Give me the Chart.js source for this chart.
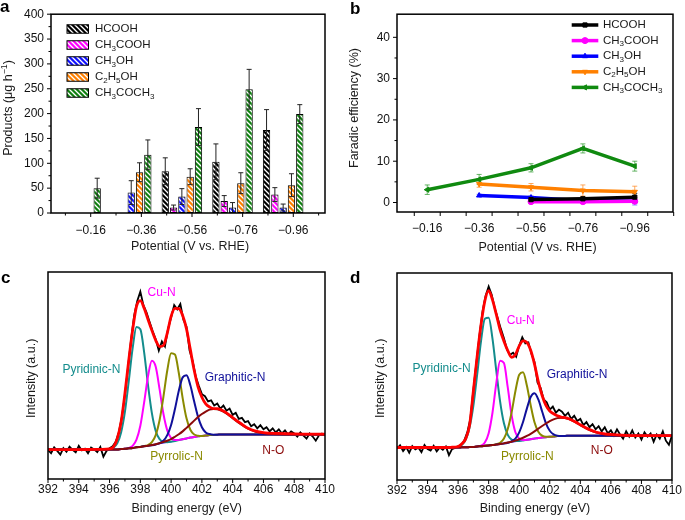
<!DOCTYPE html>
<html>
<head>
<meta charset="utf-8">
<script src="https://cdn.jsdelivr.net/npm/chart.js@4.4.0/dist/chart.umd.min.js"></script>
<style>
  body { margin: 0; background: #fff; width: 685px; height: 520px; position: relative; overflow: hidden; }
  canvas { position: absolute; }
</style>
</head>
<body>
<canvas id="chartA" width="342" height="260" style="left:0;top:0"></canvas>
<canvas id="chartB" width="343" height="260" style="left:342px;top:0"></canvas>
<canvas id="chartC" width="342" height="260" style="left:0;top:260px"></canvas>
<canvas id="chartD" width="343" height="260" style="left:342px;top:260px"></canvas>
<script>
// ---- data ----
const potentials = ['\u22120.16', '\u22120.36', '\u22120.56', '\u22120.76', '\u22120.96'];
const products = ['HCOOH', 'CH_3COOH', 'CH_3OH', 'C_2H_5OH', 'CH_3COCH_3'];

// a: production rate, ug h-1
const hcoohRate      = [null, null, 84, 103, 167];
const hcoohRateErr   = [null, null, 27, 36, 41];
const aceticRate     = [null, null, 11, 24, 37];
const aceticRateErr  = [null, null, 5, 11, 14];
const methanolRate   = [null, 41, 33, 11, 11];
const methanolRateErr= [null, 24, 16, 10, 7];
const ethanolRate    = [null, 82, 73, 60, 56];
const ethanolRateErr = [null, 19, 16, 21, 23];
const acetoneRate    = [50, 117, 173, 249, 199];
const acetoneRateErr = [20, 30, 37, 40, 19];

// b: faradaic efficiency, %
const hcoohFE      = [null, null, 0.7, 0.9, 1.3];
const hcoohFEErr   = [null, null, 0.3, 0.4, 0.9];
const aceticFE     = [null, null, 0.2, 0.2, 0.3];
const aceticFEErr  = [null, null, 0.3, 0.3, 0.4];
const methanolFE   = [null, 1.7, 1.2, 0.4, 0.3];
const methanolFEErr= [null, 0.3, 0.4, 0.6, 0.9];
const ethanolFE    = [null, 4.5, 3.7, 2.9, 2.6];
const ethanolFEErr = [null, 0.8, 0.9, 1.35, 1.35];
const acetoneFE    = [3.1, 5.6, 8.4, 13.1, 8.8];
const acetoneFEErr = [1.15, 1.2, 1.0, 1.1, 1.2];

// c, d: N 1s XPS. raw scan every 0.2 eV from 392 eV, fitted curves on eGrid
const scanStart = 392, scanStep = 0.2;
const cScan = [
  14.0, 12.5, 15.3, 13.6, 11.8, 14.9, 13.2, 15.6, 14.1, 12.9,
  16.0, 13.8, 14.6, 12.4, 15.2, 14.3, 13.0, 15.5, 10.8, 13.5,
  14.9, 15.8, 18.0, 22.5, 30.0, 40.5, 54.0, 67.5, 79.0, 86.0,
  90.5, 84.0, 80.5, 76.0, 71.5, 67.5, 62.0, 66.5, 64.0, 72.5,
  78.0, 84.0, 82.0, 84.5, 77.0, 73.5, 62.0, 57.0, 49.5, 45.0,
  41.0, 40.0, 37.5, 38.0, 35.5, 36.5, 34.0, 35.5, 33.0, 34.0,
  31.0, 32.0, 29.0, 29.5, 27.5, 28.0, 25.5, 26.5, 24.5, 26.0,
  24.0, 25.0, 23.0, 24.5, 22.5, 24.0, 22.0, 23.5, 21.5, 23.0,
  22.0, 20.5, 22.5, 21.0, 19.5, 22.0, 20.5, 18.5, 21.0, 22.0,
  21.0];
const dScan = [
  15.2, 16.8, 14.0, 15.9, 13.2, 16.4, 14.8, 15.6, 13.5, 16.9,
  15.0, 14.2, 16.5, 13.8, 15.7, 14.6, 16.2, 12.0, 14.9, 15.5,
  16.3, 17.0, 19.0, 23.0, 29.5, 43.5, 57.0, 70.0, 81.5, 89.0,
  93.5, 89.5, 83.0, 78.0, 73.0, 68.5, 63.0, 60.5, 61.5, 59.5,
  65.0, 69.0, 66.0, 66.5, 61.0, 57.0, 47.0, 44.5, 39.0, 37.5,
  34.0, 35.5, 32.5, 34.0, 33.0, 31.0, 32.5, 29.5, 31.0, 28.5,
  29.5, 26.5, 28.0, 25.5, 27.0, 24.5, 26.0, 23.5, 25.5, 22.5,
  24.0, 21.5, 24.5, 22.0, 20.0, 23.5, 21.0, 24.0, 20.5, 22.5,
  19.5, 23.0, 21.0, 22.5, 18.5, 22.0, 20.0, 23.5, 19.0, 17.0,
  21.5];

const eGrid = [392, 393, 394, 395, 395.5,
  396, 396.25, 396.5, 396.75, 397, 397.25, 397.5, 397.75,
  398, 398.25, 398.5, 398.75, 399, 399.25, 399.5, 399.75,
  400, 400.25, 400.5, 400.75, 401, 401.25, 401.5, 401.75,
  402, 402.25, 402.5, 402.75, 403, 403.25, 403.5, 403.75,
  404, 404.5, 405, 405.5, 406, 407, 408, 409, 410];

const cBase = [14.2, 14.2, 14.2, 14.2, 14.2,
  14.2, 14.3, 14.3, 14.5, 14.6, 14.8, 15.0, 15.3,
  15.5, 15.8, 16.0, 16.3, 16.6, 17.0, 17.3, 17.7,
  18.0, 18.4, 18.8, 19.2, 19.6, 20.0, 20.3, 20.6,
  20.8, 21.0, 21.2, 21.3, 21.4, 21.5, 21.5, 21.5,
  21.5, 21.5, 21.5, 21.5, 21.5, 21.5, 21.5, 21.5, 21.5];
const cPyridinic = [14.2, 14.2, 14.2, 14.2, 14.2,
  14.4, 15.1, 17.2, 22.5, 32.5, 47.4, 63.2, 73.4,
  72.3, 61.1, 45.3, 31.8, 23.2, 19.3, 18.0, 17.8,
  18.0, 18.4, 18.8, 19.2, 19.6, 20.0, 20.3, 20.6,
  20.8, 21.0, 21.2, 21.3, 21.4, 21.5, 21.5, 21.5,
  21.5, 21.5, 21.5, 21.5, 21.5, 21.5, 21.5, 21.5, 21.5];
const cCuN = [14.2, 14.2, 14.2, 14.2, 14.2,
  14.2, 14.3, 14.3, 14.5, 14.6, 15.0, 16.0, 19.0,
  25.7, 37.1, 49.7, 57.1, 54.2, 43.4, 31.5, 23.5,
  19.8, 18.8, 18.9, 19.2, 19.6, 20.0, 20.3, 20.6,
  20.8, 21.0, 21.2, 21.3, 21.4, 21.5, 21.5, 21.5,
  21.5, 21.5, 21.5, 21.5, 21.5, 21.5, 21.5, 21.5, 21.5];
const cPyrrolic = [14.2, 14.2, 14.2, 14.2, 14.2,
  14.2, 14.3, 14.3, 14.5, 14.6, 14.8, 15.0, 15.3,
  15.5, 15.9, 16.4, 17.8, 21.2, 28.4, 39.7, 52.4,
  60.7, 60.1, 51.2, 39.1, 29.3, 23.8, 21.5, 20.9,
  20.8, 21.0, 21.2, 21.3, 21.4, 21.5, 21.5, 21.5,
  21.5, 21.5, 21.5, 21.5, 21.5, 21.5, 21.5, 21.5, 21.5];
const cGraphitic = [14.2, 14.2, 14.2, 14.2, 14.2,
  14.2, 14.3, 14.3, 14.5, 14.6, 14.8, 15.0, 15.3,
  15.5, 15.8, 16.0, 16.3, 16.7, 17.3, 18.5, 21.2,
  26.1, 33.8, 42.6, 49.1, 50.1, 45.3, 37.4, 30.0,
  25.0, 22.5, 21.7, 21.4, 21.4, 21.5, 21.5, 21.5,
  21.5, 21.5, 21.5, 21.5, 21.5, 21.5, 21.5, 21.5, 21.5];
const cNO = [14.2, 14.2, 14.2, 14.2, 14.2,
  14.2, 14.3, 14.3, 14.5, 14.6, 14.8, 15.0, 15.3,
  15.5, 15.8, 16.1, 16.4, 16.8, 17.3, 17.9, 18.5,
  19.3, 20.4, 21.6, 23.0, 24.7, 26.4, 28.2, 29.9,
  31.4, 32.6, 33.5, 33.8, 33.7, 33.1, 32.1, 30.8,
  29.4, 26.6, 24.3, 22.8, 22.1, 21.6, 21.5, 21.5, 21.5];
const cFit = [14.2, 14.2, 14.2, 14.3, 14.3,
  14.5, 15.5, 19.5, 27.5, 41.5, 57.5, 72.0, 83.4,
  86.2, 82.5, 77.0, 71.8, 67.0, 64.0, 64.5, 70.5,
  78.6, 82.4, 82.3, 79.0, 72.5, 62.5, 52.5, 44.5,
  39.5, 36.3, 34.8, 34.0, 34.0, 33.4, 32.4, 31.1,
  29.7, 27.0, 24.5, 23.1, 22.4, 22.0, 21.8, 21.7, 21.7];

const dBase = [15.7, 15.7, 15.7, 15.7, 15.7,
  15.7, 15.8, 15.8, 15.9, 16.0, 16.2, 16.3, 16.5,
  16.7, 16.9, 17.1, 17.4, 17.6, 17.9, 18.2, 18.5,
  18.8, 19.1, 19.4, 19.7, 20.0, 20.3, 20.5, 20.7,
  20.9, 21.0, 21.2, 21.3, 21.3, 21.4, 21.4, 21.4,
  21.4, 21.4, 21.4, 21.4, 21.4, 21.4, 21.4, 21.4, 21.4];
const dPyridinic = [15.7, 15.7, 15.7, 15.7, 15.7,
  16.0, 17.0, 19.5, 25.4, 35.9, 51.1, 67.1, 77.9,
  78.4, 68.3, 52.7, 37.9, 27.4, 21.8, 19.5, 18.9,
  18.9, 19.1, 19.4, 19.7, 20.0, 20.3, 20.5, 20.7,
  20.9, 21.0, 21.2, 21.3, 21.3, 21.4, 21.4, 21.4,
  21.4, 21.4, 21.4, 21.4, 21.4, 21.4, 21.4, 21.4, 21.4];
const dCuN = [15.7, 15.7, 15.7, 15.7, 15.7,
  15.7, 15.8, 15.8, 15.9, 16.0, 16.2, 16.6, 18.1,
  22.6, 32.5, 46.8, 57.6, 56.5, 44.7, 31.4, 23.1,
  20.0, 19.3, 19.4, 19.7, 20.0, 20.3, 20.5, 20.7,
  20.9, 21.0, 21.2, 21.3, 21.3, 21.4, 21.4, 21.4,
  21.4, 21.4, 21.4, 21.4, 21.4, 21.4, 21.4, 21.4, 21.4];
const dPyrrolic = [15.7, 15.7, 15.7, 15.7, 15.7,
  15.7, 15.8, 15.8, 15.9, 16.0, 16.2, 16.3, 16.5,
  16.7, 16.9, 17.3, 18.0, 20.0, 24.6, 32.6, 42.9,
  50.9, 52.0, 45.7, 36.1, 27.9, 23.3, 21.4, 20.9,
  20.9, 21.0, 21.2, 21.3, 21.3, 21.4, 21.4, 21.4,
  21.4, 21.4, 21.4, 21.4, 21.4, 21.4, 21.4, 21.4, 21.4];
const dGraphitic = [15.7, 15.7, 15.7, 15.7, 15.7,
  15.7, 15.8, 15.8, 15.9, 16.0, 16.2, 16.3, 16.5,
  16.7, 16.9, 17.1, 17.4, 17.6, 18.0, 18.7, 20.0,
  23.0, 28.0, 34.5, 40.1, 41.9, 38.9, 33.1, 27.4,
  23.8, 22.0, 21.4, 21.3, 21.3, 21.4, 21.4, 21.4,
  21.4, 21.4, 21.4, 21.4, 21.4, 21.4, 21.4, 21.4, 21.4];
const dNO = [15.7, 15.7, 15.7, 15.7, 15.7,
  15.7, 15.8, 15.8, 15.9, 16.0, 16.2, 16.3, 16.5,
  16.7, 16.9, 17.1, 17.4, 17.7, 18.1, 18.5, 19.0,
  19.7, 20.4, 21.3, 22.3, 23.5, 24.8, 26.1, 27.3,
  28.4, 29.3, 29.9, 30.1, 29.9, 29.4, 28.6, 27.6,
  26.5, 24.5, 23.0, 22.1, 21.7, 21.4, 21.4, 21.4, 21.4];
const dFit = [15.7, 15.7, 15.7, 15.7, 15.8,
  16.2, 17.5, 20.0, 26.5, 43.0, 60.0, 75.0, 86.5,
  91.5, 87.0, 80.0, 72.5, 67.0, 62.5, 59.3, 60.5,
  64.8, 67.2, 66.5, 62.7, 56.0, 47.5, 40.8, 36.0,
  33.3, 32.0, 31.0, 30.4, 30.1, 29.6, 28.8, 27.8,
  26.7, 24.7, 23.2, 22.4, 22.0, 21.6, 21.4, 21.4, 21.4];

const peakNames = ['Cu-N', 'Pyridinic-N', 'Graphitic-N', 'Pyrrolic-N', 'N-O'];

// axis ticks
const potMajor = [1, 2, 3, 4, 5];
const potMinorA = [0.5, 1.5, 2.5, 3.5, 4.5, 5.5];
const potTicksB = [0.75, 1.25, 1.75, 2.25, 2.75, 3.25, 3.75, 4.25, 4.75, 5.25, 5.75];
const rateMajor = [0, 50, 100, 150, 200, 250, 300, 350, 400];
const rateMinor = [25, 75, 125, 175, 225, 275, 325, 375];
const feMajor = [0, 10, 20, 30, 40];
const feMinor = [5, 15, 25, 35];
const beMajor = [392, 394, 396, 398, 400, 402, 404, 406, 408, 410];
const beMinor = [393, 395, 397, 399, 401, 403, 405, 407, 409];

// ---- styles ----
const FONT = "'Liberation Sans', Arial, Helvetica, sans-serif";
Chart.defaults.font.family = FONT;
Chart.defaults.font.size = 12;
Chart.defaults.color = '#111';
Chart.defaults.animation = false;

const barColors = ['#000000', '#ff00ff', '#1010ff', '#ff8000', '#108010'];
const lineColors = ['#000000', '#ff00ff', '#0000ff', '#ff8000', '#108a10'];
const lineErrColors = ['rgba(0,0,0,0.75)', 'rgba(255,0,255,0.6)', 'rgba(80,80,255,0.7)', 'rgba(255,140,40,0.75)', 'rgba(40,150,40,0.7)'];
const markers = ['rect', 'circle', 'triangle', 'triangle', 'triangle'];
const markerRot = [0, 0, 0, 180, 270];
const peakColors = ['#ff00ff', '#138c8c', '#10109a', '#8a8a00', '#8b0a0a'];
const barShift = -0.2;
const titleSize = 12.5;

function stripes(color) {
  const c = document.createElement('canvas');
  c.width = c.height = 5;
  const g = c.getContext('2d');
  g.fillStyle = color; g.fillRect(0, 0, 5, 5);
  g.strokeStyle = '#fff'; g.lineWidth = 1.3;
  g.beginPath();
  g.moveTo(-1, -1); g.lineTo(6, 6);
  g.moveTo(-1, 4); g.lineTo(1, 6);
  g.moveTo(4, -1); g.lineTo(6, 1);
  g.stroke();
  return g.createPattern(c, 'repeat');
}

// text with _x subscripts and ^{..} superscripts
function richText(ctx, str, x, y, size, align) {
  const parts = [];
  for (let i = 0; i < str.length; i++) {
    const ch = str[i];
    if (ch === '_') parts.push({ t: str[++i], k: 'sub' });
    else if (ch === '^') {
      const end = str.indexOf('}', i);
      parts.push({ t: str.slice(i + 2, end), k: 'sup' });
      i = end;
    } else if (parts.length && parts[parts.length - 1].k === 'n') parts[parts.length - 1].t += ch;
    else parts.push({ t: ch, k: 'n' });
  }
  const fontOf = p => (p.k === 'n' ? size : size * 0.7) + 'px ' + FONT;
  let w = 0;
  parts.forEach(p => { ctx.font = fontOf(p); p.w = ctx.measureText(p.t).width; w += p.w; });
  let cx = align === 'center' ? x - w / 2 : x;
  ctx.textAlign = 'left';
  ctx.textBaseline = 'middle';
  parts.forEach(p => {
    ctx.font = fontOf(p);
    const dy = p.k === 'sub' ? size * 0.3 : p.k === 'sup' ? -size * 0.32 : 0;
    ctx.fillText(p.t, cx, y + dy);
    cx += p.w;
  });
}

function drawErrors(chart, ex) {
  const ctx = chart.ctx, ys = chart.scales.y;
  ctx.save();
  ctx.lineWidth = 1;
  ex.errors.forEach((errs, di) => {
    const meta = chart.getDatasetMeta(di), ds = chart.data.datasets[di];
    ctx.strokeStyle = ex.errorColors[di];
    meta.data.forEach((el, j) => {
      const v = ds.data[j].y, e = errs[j];
      if (v == null || e == null) return;
      const x = el.x, y1 = ys.getPixelForValue(v - e), y2 = ys.getPixelForValue(v + e);
      ctx.beginPath();
      ctx.moveTo(x, y1); ctx.lineTo(x, y2);
      ctx.moveTo(x - ex.cap, y1); ctx.lineTo(x + ex.cap, y1);
      ctx.moveTo(x - ex.cap, y2); ctx.lineTo(x + ex.cap, y2);
      ctx.stroke();
    });
  });
  ctx.restore();
}

function drawFrame(chart, ex) {
  const ctx = chart.ctx, a = chart.chartArea, xs = chart.scales.x, ys = chart.scales.y;
  ctx.save();
  ctx.strokeStyle = '#000';
  ctx.lineWidth = 1;
  ctx.beginPath();
  (ex.xTicks || []).forEach(([vals, len]) => vals.forEach(v => {
    const px = xs.getPixelForValue(v);
    ctx.moveTo(px, a.bottom); ctx.lineTo(px, a.bottom + len);
  }));
  (ex.yTicks || []).forEach(([vals, len]) => vals.forEach(v => {
    const py = ys.getPixelForValue(v);
    ctx.moveTo(a.left, py); ctx.lineTo(a.left - len, py);
  }));
  ctx.stroke();
  ctx.lineWidth = 1.5;
  ctx.strokeRect(a.left, a.top, a.right - a.left, a.bottom - a.top);
  ctx.restore();
}

const figure = {
  id: 'figure',
  beforeDatasetsDraw(chart) {
    const ex = extras[chart.canvas.id];
    if (ex.errors && ex.errorsUnder) drawErrors(chart, ex);
  },
  afterDatasetsDraw(chart) {
    const ex = extras[chart.canvas.id];
    if (ex.errors && !ex.errorsUnder) drawErrors(chart, ex);
  },
  afterDraw(chart) {
    const ex = extras[chart.canvas.id], ctx = chart.ctx;
    drawFrame(chart, ex);
    ctx.save();
    ctx.fillStyle = '#000';
    ctx.font = 'bold 17px ' + FONT;
    ctx.textAlign = 'left'; ctx.textBaseline = 'alphabetic';
    ctx.fillText(ex.letter[0], ex.letter[1], ex.letter[2]);
    ctx.fillStyle = '#1a1a1a';
    richText(ctx, ex.xTitle[0], ex.xTitle[1], ex.xTitle[2], titleSize, 'center');
    ctx.save();
    ctx.translate(ex.yTitle[1], ex.yTitle[2]);
    ctx.rotate(-Math.PI / 2);
    richText(ctx, ex.yTitle[0], 0, 0, titleSize, 'center');
    ctx.restore();

    if (ex.barLegend) {
      const L = ex.barLegend;
      products.forEach((p, k) => {
        const cy = L.y + k * L.step;
        ctx.fillStyle = stripes(barColors[k]);
        ctx.fillRect(L.x, cy - L.h / 2, L.w, L.h);
        ctx.strokeStyle = '#000'; ctx.lineWidth = 1;
        ctx.strokeRect(L.x, cy - L.h / 2, L.w, L.h);
        ctx.fillStyle = '#1a1a1a';
        richText(ctx, p, L.textX, cy, 11.5, 'left');
      });
    }
    if (ex.lineLegend) {
      const L = ex.lineLegend;
      products.forEach((p, k) => {
        const cy = L.y + k * L.step;
        ctx.strokeStyle = lineColors[k]; ctx.fillStyle = lineColors[k];
        ctx.lineWidth = 3.5;
        ctx.beginPath(); ctx.moveTo(L.x, cy); ctx.lineTo(L.x + L.w, cy); ctx.stroke();
        ctx.lineWidth = 1;
        Chart.helpers.drawPoint(ctx, { pointStyle: markers[k], rotation: markerRot[k], radius: 3, borderWidth: 1 }, L.x + L.w / 2, cy);
        ctx.fillStyle = '#1a1a1a';
        richText(ctx, p, L.textX, cy, 11.5, 'left');
      });
    }
    if (ex.peakLabels) {
      const xs = chart.scales.x, ys = chart.scales.y;
      ex.peakLabels.forEach(([e, v], k) => {
        ctx.fillStyle = peakColors[k];
        richText(ctx, peakNames[k], xs.getPixelForValue(e), ys.getPixelForValue(v), 12, 'center');
      });
    }
    ctx.restore();
  }
};

const extras = {
  chartA: {
    letter: ['a', 0, 12],
    xTitle: ['Potential (V vs. RHE)', 190, 247],
    yTitle: ['Products (\u03bcg h^{\u22121})', 9, 108],
    xTicks: [[potMajor, 4], [potMinorA, 2.5]],
    yTicks: [[rateMajor, 4], [rateMinor, 2.5]],
    errors: [hcoohRateErr, aceticRateErr, methanolRateErr, ethanolRateErr, acetoneRateErr],
    errorColors: ['#222', '#222', '#222', '#222', '#222'],
    cap: 2.5,
    barLegend: { x: 67, y: 29, step: 16, w: 21.5, h: 8.5, textX: 95 }
  },
  chartB: {
    letter: ['b', 8, 13.5],
    xTitle: ['Potential (V vs. RHE)', 195.5, 247.5],
    yTitle: ['Faradic efficiency (%)', 13, 108],
    xTicks: [[potTicksB, 4]],
    yTicks: [[feMajor, 4], [feMinor, 2.5]],
    errors: [hcoohFEErr, aceticFEErr, methanolFEErr, ethanolFEErr, acetoneFEErr],
    errorColors: lineErrColors,
    errorsUnder: true,
    cap: 2.5,
    lineLegend: { x: 229.7, y: 25, step: 15.6, w: 26.6, textX: 261 }
  },
  chartC: {
    letter: ['c', 1, 22.5],
    xTitle: ['Binding energy (eV)', 186.7, 248.3],
    yTitle: ['Intensity (a.u.)', 31.3, 118.3],
    xTicks: [[beMajor, 4], [beMinor, 2.5]],
    peakLabels: [[399.38, 89.9], [394.82, 52.8], [404.15, 48.8], [400.35, 10.6], [406.64, 13.7]]
  },
  chartD: {
    letter: ['d', 8, 22.5],
    xTitle: ['Binding energy (eV)', 193, 248.3],
    yTitle: ['Intensity (a.u.)', 38.5, 118.3],
    xTicks: [[beMajor, 4], [beMinor, 2.5]],
    peakLabels: [[400.1, 76.9], [394.92, 54.0], [403.78, 50.8], [400.53, 11.3], [405.4, 14.2]]
  }
};

const baseOptions = () => ({
  responsive: false,
  animation: false,
  devicePixelRatio: 1,
  plugins: { legend: { display: false }, tooltip: { enabled: false } }
});
const noGrid = { display: false, drawTicks: false };

// ---- a: bars ----
const rateSeries = [hcoohRate, aceticRate, methanolRate, ethanolRate, acetoneRate];
new Chart(document.getElementById('chartA'), {
  type: 'bar',
  data: {
    datasets: products.map((p, k) => ({
      label: p,
      data: rateSeries[k].map((v, i) => ({ x: i + 1 + barShift, y: v })),
      backgroundColor: stripes(barColors[k]),
      borderColor: '#000',
      borderWidth: 1,
      borderSkipped: false,
      categoryPercentage: 0.82,
      barPercentage: 0.88
    }))
  },
  options: Object.assign(baseOptions(), {
    layout: { padding: { top: 12, right: 17, left: 0, bottom: 0 } },
    scales: {
      x: {
        type: 'linear', min: 0.216, max: 5.626, offset: false,
        grid: noGrid, border: { display: false },
        afterBuildTicks: s => { s.ticks = potMajor.map(v => ({ value: v })); },
        ticks: { padding: 10, maxRotation: 0, autoSkip: false, callback: v => potentials[Math.round(v) - 1] },
        afterFit: s => { s.height = 47; }
      },
      y: {
        min: 0, max: 400,
        grid: noGrid, border: { display: false },
        afterBuildTicks: s => { s.ticks = rateMajor.map(v => ({ value: v })); },
        ticks: { padding: 7 },
        afterFit: s => { s.width = 51; }
      }
    }
  }),
  plugins: [figure]
});

// ---- b: faradaic efficiency ----
const feSeries = [hcoohFE, aceticFE, methanolFE, ethanolFE, acetoneFE];
new Chart(document.getElementById('chartB'), {
  type: 'line',
  data: {
    datasets: products.map((p, k) => ({
      label: p,
      data: feSeries[k].map((v, i) => ({ x: i + 1, y: v })),
      borderColor: lineColors[k],
      backgroundColor: lineColors[k],
      borderWidth: 3.5,
      pointStyle: markers[k],
      pointRotation: markerRot[k],
      pointRadius: 3,
      pointBorderWidth: 1,
      tension: 0
    }))
  },
  options: Object.assign(baseOptions(), {
    layout: { padding: { top: 5, right: 12, left: 0, bottom: 0 } },
    scales: {
      x: {
        type: 'linear', min: 0.417, max: 5.737,
        grid: noGrid, border: { display: false },
        afterBuildTicks: s => { s.ticks = potMajor.map(v => ({ value: v })); },
        ticks: { padding: 9, maxRotation: 0, autoSkip: false, callback: v => potentials[Math.round(v) - 1] },
        afterFit: s => { s.height = 48; }
      },
      y: {
        min: -2.3, max: 45.6,
        grid: noGrid, border: { display: false },
        afterBuildTicks: s => { s.ticks = feMajor.map(v => ({ value: v })); },
        ticks: { padding: 7 },
        afterFit: s => { s.width = 55; }
      }
    }
  }),
  plugins: [figure]
});

// ---- c, d: XPS ----
function xpsChart(id, scan, fit, base, pyridinic, cuN, pyrrolic, graphitic, nO, pad, xh) {
  const pts = arr => eGrid.map((e, i) => ({ x: e, y: arr[i] }));
  const smooth = { pointRadius: 0, cubicInterpolationMode: 'monotone', fill: false };
  new Chart(document.getElementById(id), {
    type: 'line',
    data: {
      datasets: [
        Object.assign({ data: pts(fit), borderColor: '#ff0000', borderWidth: 2.8 }, smooth),
        Object.assign({ data: pts(nO), borderColor: peakColors[4], borderWidth: 2 }, smooth),
        Object.assign({ data: pts(graphitic), borderColor: peakColors[2], borderWidth: 2 }, smooth),
        Object.assign({ data: pts(pyrrolic), borderColor: peakColors[3], borderWidth: 2 }, smooth),
        Object.assign({ data: pts(cuN), borderColor: peakColors[0], borderWidth: 2 }, smooth),
        Object.assign({ data: pts(pyridinic), borderColor: peakColors[1], borderWidth: 2 }, smooth),
        Object.assign({ data: pts(base), borderColor: '#3a3aff', borderWidth: 1 }, smooth),
        { data: scan.map((v, i) => ({ x: scanStart + i * scanStep, y: v })), borderColor: '#000', borderWidth: 1.8, pointRadius: 0, tension: 0 }
      ]
    },
    options: Object.assign(baseOptions(), {
      layout: { padding: pad },
      scales: {
        x: {
          type: 'linear', min: 392, max: 410,
          grid: noGrid, border: { display: false },
          afterBuildTicks: s => { s.ticks = beMajor.map(v => ({ value: v })); },
          ticks: { padding: 3, maxRotation: 0, autoSkip: false },
          afterFit: s => { s.height = xh; }
        },
        y: { display: false, min: 0, max: 100 }
      }
    }),
    plugins: [figure]
  });
}

xpsChart('chartC', cScan, cFit, cBase, cPyridinic, cCuN, cPyrrolic, cGraphitic, cNO,
  { top: 12, right: 17, left: 48, bottom: 0 }, 41);
xpsChart('chartD', dScan, dFit, dBase, dPyridinic, dCuN, dPyrrolic, dGraphitic, dNO,
  { top: 13, right: 11, left: 55, bottom: 0 }, 40);
</script>
</body>
</html>
